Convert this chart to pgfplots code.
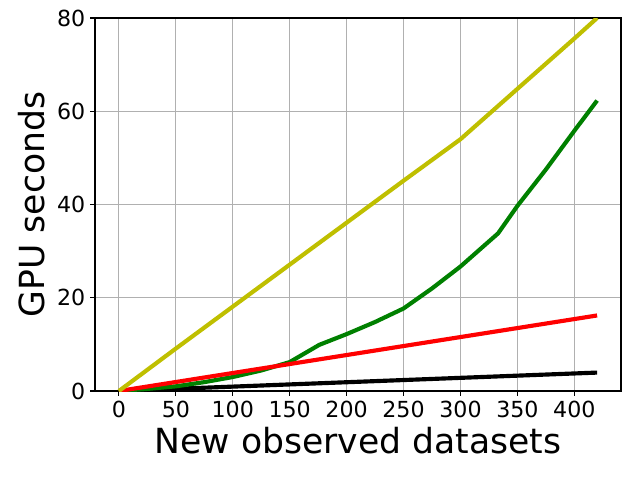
\documentclass[border=0pt]{standalone}
\usepackage{pgfplots}
\pgfplotsset{compat=1.18}
\usepackage{fontspec}
\setmainfont{DejaVu Sans}
\definecolor{mplyellow}{rgb}{0.75,0.75,0}
\definecolor{mplgreen}{rgb}{0,0.5,0}
\definecolor{gridgray}{HTML}{B0B0B0}
\begin{document}
\begin{tikzpicture}
\useasboundingbox (0,0) rectangle (6.4in,4.8in);
\begin{axis}[
  at={(0.95in,0.89in)}, anchor=south west,
  scale only axis, width=5.26in, height=3.73in,
  xmin=-21, xmax=441, ymin=0, ymax=80,
  xtick={0,50,...,400}, ytick={0,20,...,80},
  grid=major,
  major grid style={gridgray, line width=0.8pt},
  axis line style={line width=0.8pt},
  tick style={black, line width=0.8pt},
  tick align=outside, major tick length=3.5pt,
  xtick pos=bottom, ytick pos=left,
  /pgf/number format/assume math mode=true,
  tick label style={font=\fontsize{16}{19}\selectfont},
  label style={font=\fontsize{25}{30}\selectfont},
  xlabel={New observed datasets},
  ylabel={GPU seconds},
  ylabel style={yshift=2pt},
  clip=true,
  every axis plot/.append style={line width=3pt, line join=round},
]
\addplot[black] coordinates {(0,0) (420,3.95)};
\addplot[mplgreen] coordinates {(0,0) (25,0.45) (50,1.0) (75,1.9) (100,3.0) (125,4.4) (150,6.2) (176,9.9) (200,12.2) (225,14.8) (250,17.7) (275,22.0) (300,26.7) (333,33.8) (350,39.7) (375,47.5) (400,55.8) (420,62.3)};
\addplot[red] coordinates {(0,0) (420,16.2)};
\addplot[mplyellow] coordinates {(0,0) (50,9.1) (100,18.1) (150,27.1) (200,36.1) (250,45.1) (300,54.0) (350,64.8) (400,75.6) (420,80)};
\end{axis}
\end{tikzpicture}
\end{document}
